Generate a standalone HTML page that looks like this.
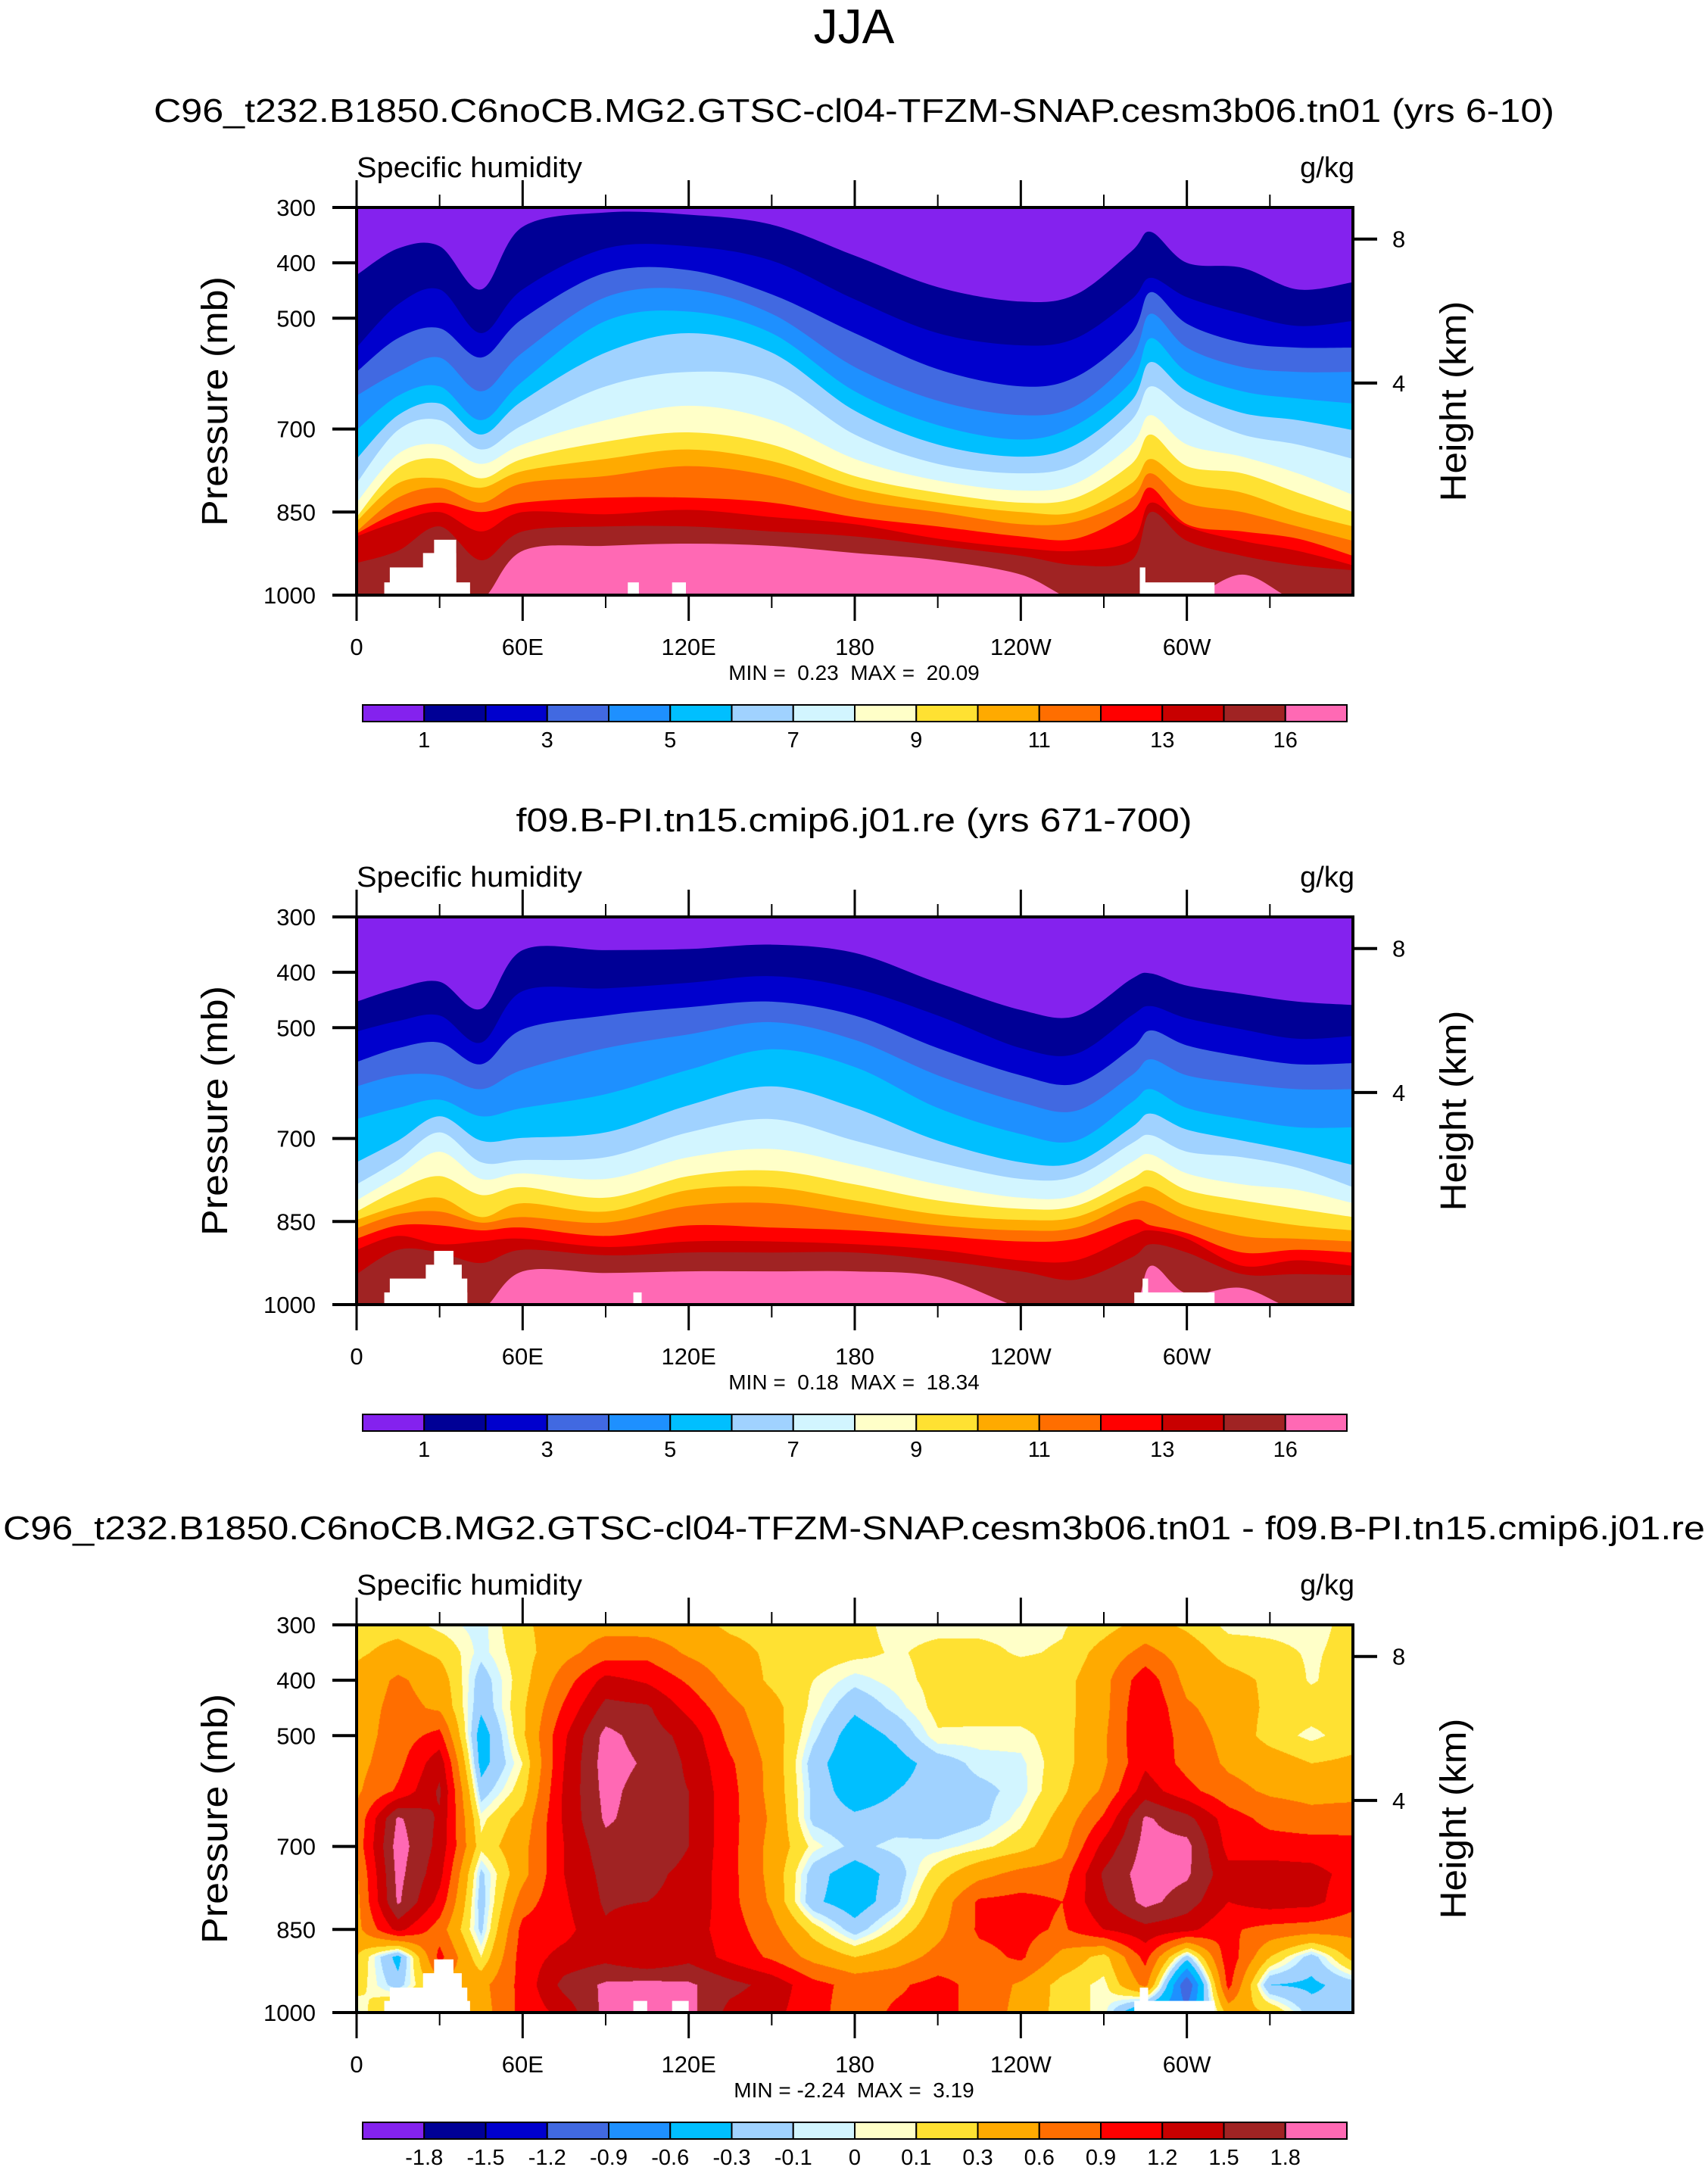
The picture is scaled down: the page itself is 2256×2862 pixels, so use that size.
<!DOCTYPE html>
<html><head><meta charset="utf-8"><style>
html,body{margin:0;padding:0;background:#fff;}
#wrap{position:relative;width:2256px;height:2862px;overflow:hidden;background:#fff;}
#diffcanvas{position:absolute;left:471px;top:2146px;width:1316px;height:512px;}
#main{position:absolute;left:0;top:0;}
text{font-family:"Liberation Sans",Arial,sans-serif;fill:#000;}
.pre{white-space:pre;}
</style></head><body>
<div id="wrap">
<canvas id="diffcanvas" width="1316" height="512"></canvas>
<svg id="main" width="2256" height="2862" xmlns="http://www.w3.org/2000/svg">
<text x="1128" y="57" font-size="64" text-anchor="middle">JJA</text>
</svg>
</div>
<script>
// ---- data ----
const lons = [0,15,30,45,60,90,120,150,180,210,240,260,280,287,300,320,340,360];
const p1b1=[422,374,370,448,335,309,313,331,387,444,470,457,379,344,400,409,448,435];
const p1b2=[553,475,448,527,448,374,370,396,466,527,549,536,466,427,462,492,514,505];
const p1b3=[597,536,518,571,501,418,413,457,527,592,623,606,527,453,510,544,553,553];
const p1b4=[640,597,571,632,562,462,448,492,588,649,675,658,571,492,553,588,597,597];
const p1b5=[702,640,623,684,614,505,488,527,632,693,719,693,614,536,597,632,645,654];
const p1b6=[754,675,654,710,649,562,527,562,667,728,750,728,649,579,632,671,684,702];
const p1b7=[798,702,684,737,693,623,597,614,710,763,780,763,684,623,667,710,728,754];
const p1b8=[833,745,728,763,728,684,658,684,754,793,811,798,728,675,728,750,780,819];
const p1b9=[859,771,754,789,754,723,706,728,785,815,833,824,763,710,767,780,815,850];
const p1b10=[867,798,789,806,776,754,737,758,806,833,850,850,798,754,798,815,850,876];
const p1b11=[885,824,806,833,798,785,767,785,828,850,872,867,824,780,833,850,876,902];
const p1b12=[889,850,833,850,833,824,824,833,859,876,894,898,850,806,872,885,898,929];
const p1b13=[894,867,850,885,850,854,846,859,872,898,915,920,902,833,876,902,920,946];
const p1b14=[942,920,876,937,885,876,876,885,894,911,929,946,937,850,902,929,946,955];
const p1b15=[1010,1010,1010,1010,920,911,907,911,924,937,963,1010,1010,1010,1010,963,1010,1010];

const p2b1=[453,429,417,466,360,360,358,350,365,419,468,479,412,402,424,439,453,459];
const p2b2=[507,488,478,527,434,429,419,407,429,478,537,547,478,461,483,503,520,515];
const p2b3=[562,537,527,566,503,478,463,453,478,537,586,601,537,505,532,552,566,564];
const p2b4=[606,586,586,611,576,537,512,490,522,586,635,650,586,557,586,601,611,611];
const p2b5=[665,645,630,660,645,620,576,539,571,645,692,704,635,611,645,665,680,680];
const p2b6=[743,704,660,704,699,689,640,606,645,704,743,743,680,655,684,704,724,748];
const p2b7=[783,739,689,743,739,734,689,665,704,743,773,768,709,694,724,734,753,788];
const p2b8=[812,768,724,773,763,773,734,719,748,783,807,802,743,729,763,783,793,817];
const p2b9=[832,793,768,802,788,807,768,758,783,812,827,822,773,758,793,812,827,842];
const p2b10=[847,822,807,842,817,832,793,788,812,837,847,842,798,788,822,842,857,866];
const p2b11=[862,837,832,852,842,852,822,817,837,857,866,861,817,817,847,876,881,886];
const p2b12=[881,857,857,866,861,876,857,861,866,876,886,881,847,857,871,906,901,906];
const p2b13=[901,876,891,886,881,896,886,886,891,901,920,920,876,866,881,930,920,930];
const p2b14=[945,901,906,925,901,911,906,906,906,920,940,955,915,891,906,945,945,947];
const p2b15=[1010,1010,1010,1010,940,943,940,940,940,950,1005,1010,1010,930,980,970,1010,1010];

// missing-data (white) boxes: [lon1, lon2, pressureTop]
const miss1=[[10,41,977],[12,36,950],[24,36,924],[28,36,900],[98,102,977],[114,119,977],[283,310,977],[283,285,950]];
const miss2=[[10,40,978],[12,40,953],[25,38,928],[28,35,903],[100,103,978],[281,310,978],[284,286,953]];
const miss3=[[10,41,979],[12,40,955],[24,38,929],[28,35,904],[100,105,979],[114,120,979],[281,310,979],[283,286,955]];

// difference field grid: lon 0..360 step 15, pressure 300..1000 step 50
const diffLons=[0,15,30,45,60,75,90,105,120,135,150,165,180,195,210,225,240,255,270,285,300,315,330,345,360];
const diffPres=[300,350,400,450,500,550,600,650,700,750,800,850,900,950,1000];
const r300=[0.2,0.2,0.05,-0.05,0.25,0.45,0.5,0.45,0.4,0.25,0.2,0.2,0.15,0.05,0.05,0.05,0.05,0.08,0.2,0.4,0.25,0.05,0.05,0.05,0.15];
const r350=[0.25,0.4,0.25,-0.05,0.2,0.5,0.75,0.8,0.55,0.4,0.25,0.2,0.15,0.08,0.15,0.15,0.08,0.12,0.4,0.7,0.45,0.2,0.15,0.08,0.15];
const r400=[0.4,0.65,0.45,-0.2,0.2,0.75,1.3,1.15,0.85,0.5,0.25,0.1,-0.05,0.05,0.15,0.2,0.2,0.2,0.5,1.1,0.5,0.4,0.25,0.08,0.2];
const r450=[0.45,0.7,0.55,-0.25,0.25,0.95,1.6,1.55,1.1,0.7,0.4,0.05,-0.25,-0.05,0.15,0.2,0.2,0.2,0.5,1.2,0.65,0.45,0.25,0.2,0.2];
const r500=[0.45,0.75,1.0,-0.45,0.25,1.15,1.9,1.65,1.4,0.8,0.45,-0.05,-0.45,-0.25,0.08,0.05,0.05,0.2,0.55,1.2,0.75,0.5,0.2,0.05,0.2];
const r550=[0.5,0.8,1.4,-0.4,0.1,1.2,1.95,1.75,1.45,0.95,0.5,-0.2,-0.5,-0.4,-0.2,-0.05,-0.03,0.2,0.55,1.15,0.8,0.55,0.45,0.3,0.35];
const r600=[0.55,0.95,1.55,-0.2,0.2,1.25,1.9,1.65,1.5,1.0,0.5,-0.15,-0.45,-0.3,-0.2,-0.15,-0.05,0.25,0.65,1.35,1.0,0.7,0.55,0.5,0.5];
const r650=[0.65,1.85,1.45,0.05,0.4,1.25,1.85,1.65,1.5,1.0,0.55,-0.15,-0.25,-0.2,-0.25,-0.15,0.05,0.4,0.95,1.85,1.6,1.05,0.8,0.7,0.75];
const r700=[0.7,1.95,1.4,0.15,0.5,1.2,1.7,1.65,1.5,1.0,0.5,0.05,-0.15,-0.05,-0.05,0.05,0.2,0.5,1.3,1.9,1.9,1.1,1.05,1.05,1.0];
const r750=[0.55,1.9,1.3,-0.15,0.5,1.2,1.6,1.55,1.45,1.0,0.5,-0.2,-0.45,-0.2,0.2,0.5,0.7,0.75,1.55,1.95,1.85,1.3,1.35,1.3,1.1];
const r800=[0.5,1.85,1.1,-0.2,0.75,1.15,1.55,1.5,1.45,1.0,0.55,-0.25,-0.45,-0.15,0.4,0.95,1.0,0.9,1.45,1.9,1.65,1.2,1.35,1.3,1.0];
const r850=[0.5,1.3,0.75,-0.15,1.0,1.1,1.45,1.2,1.35,1.05,0.7,0.2,-0.2,0.15,0.5,0.95,1.0,0.85,1.2,1.4,1.3,0.95,0.8,0.75,0.7];
const r900=[0.3,-0.4,1.0,0.1,1.05,1.3,1.4,1.2,1.4,1.1,0.85,0.5,0.3,0.45,0.7,0.8,0.95,0.5,0.2,1.0,-0.2,1.1,0.3,-0.2,0.4];
const r950=[0.2,-0.2,0.5,0.5,1.0,1.6,1.85,1.9,1.85,1.6,1.4,1.0,0.8,0.85,1.0,0.8,0.55,0.2,0.05,0.7,-1.2,1.0,-0.3,-0.35,-0.2];
const r1000=[-0.05,0.5,0.5,0.45,1.0,1.3,1.9,2.0,1.9,1.4,1.3,1.0,0.75,0.95,1.0,0.8,0.5,0.2,0.05,-0.7,-0.8,0.4,0.3,-0.2,-0.3];

const diffLevels=[-1.8,-1.5,-1.2,-0.9,-0.6,-0.3,-0.1,0,0.1,0.3,0.6,0.9,1.2,1.5,1.8];
const cbLabels1=['1','3','5','7','9','11','13','16'];
const cbLabels3=['-1.8','-1.5','-1.2','-0.9','-0.6','-0.3','-0.1','0','0.1','0.3','0.6','0.9','1.2','1.5','1.8'];
const presTicks=[300,400,500,700,850,1000];
const heightTicks=['8','4'];
const heightTickPres=[357,617];
const xMajor=[0,60,120,180,240,300];
const xMajorLabels=['0','60E','120E','180','120W','60W'];
const xMinor=[30,90,150,210,270,330];
const titles=['C96_t232.B1850.C6noCB.MG2.GTSC-cl04-TFZM-SNAP.cesm3b06.tn01 (yrs 6-10)','f09.B-PI.tn15.cmip6.j01.re (yrs 671-700)','C96_t232.B1850.C6noCB.MG2.GTSC-cl04-TFZM-SNAP.cesm3b06.tn01 - f09.B-PI.tn15.cmip6.j01.re'];
const minmax=['MIN =  0.23  MAX =  20.09','MIN =  0.18  MAX =  18.34','MIN = -2.24  MAX =  3.19'];

const colors=['#8422EE','#000096','#0000CD','#4169E1','#1E90FF','#00BFFF','#A0D2FF','#D2F5FF','#FFFFC8','#FFE132','#FFAA00','#FF6E00','#FF0000','#C80000','#A02323','#FF69B4'];

// ---- layout ----
const L=471,R=1787,W=R-L,H=512;
const tops=[274,1211,2146];
const titleY=[161,1098,2033];
const titleLen=[1850,893,2248];
function xS(lon){return L+lon/360*W;}
function yS(p,top){return top+(p-300)/700*H;}

const svg=document.getElementById('main');
const NS='http://www.w3.org/2000/svg';
function mk(tag,attrs,parent){const e=document.createElementNS(NS,tag);for(const k in attrs)e.setAttribute(k,attrs[k]);(parent||svg).appendChild(e);return e;}

function smoothPath(pts){
  let d='M'+pts[0][0].toFixed(1)+','+pts[0][1].toFixed(1);
  for(let i=0;i<pts.length-1;i++){
    const p0=pts[Math.max(0,i-1)],p1=pts[i],p2=pts[i+1],p3=pts[Math.min(pts.length-1,i+2)];
    const c1x=p1[0]+(p2[0]-p0[0])/6,c1y=p1[1]+(p2[1]-p0[1])/6;
    const c2x=p2[0]-(p3[0]-p1[0])/6,c2y=p2[1]-(p3[1]-p1[1])/6;
    d+=' C'+c1x.toFixed(1)+','+c1y.toFixed(1)+' '+c2x.toFixed(1)+','+c2y.toFixed(1)+' '+p2[0].toFixed(1)+','+p2[1].toFixed(1);
  }
  return d;
}

const defs=mk('defs',{});
tops.forEach((t,i)=>{
  const cp=mk('clipPath',{id:'clip'+i},defs);
  mk('rect',{x:L,y:t,width:W,height:H},cp);
});

const panelBounds=[
  [p1b1,p1b2,p1b3,p1b4,p1b5,p1b6,p1b7,p1b8,p1b9,p1b10,p1b11,p1b12,p1b13,p1b14,p1b15],
  [p2b1,p2b2,p2b3,p2b4,p2b5,p2b6,p2b7,p2b8,p2b9,p2b10,p2b11,p2b12,p2b13,p2b14,p2b15]
];
const missing=[miss1,miss2,miss3];

// panels 1-2 filled contours
for(let pi=0;pi<2;pi++){
  const top=tops[pi];
  const g=mk('g',{'clip-path':'url(#clip'+pi+')'});
  
  
  const bg=mk('rect',{x:L,y:top,width:W,height:H,fill:colors[0]},g);
  
  
  panelBounds[pi].forEach((b,k)=>{
    const pts=lons.map((lo,j)=>[xS(lo),yS(b[j],top)]);
    const d=smoothPath(pts)+' L'+(R+5)+','+(top+H+20)+' L'+(L-5)+','+(top+H+20)+' Z';
    const path=mk('path',{d:d,fill:colors[k+1]},g);
    
    
  });
}

// panel 3 field on canvas
(function(){
  const rows=[r300,r350,r400,r450,r500,r550,r600,r650,r700,r750,r800,r850,r900,r950,r1000];
  const cv=document.getElementById('diffcanvas');
  const ctx=cv.getContext('2d');
  const img=ctx.createImageData(W,H);
  const rgb=colors.map(c=>[parseInt(c.slice(1,3),16),parseInt(c.slice(3,5),16),parseInt(c.slice(5,7),16)]);
  const dl=diffLons[1]-diffLons[0], dp=diffPres[1]-diffPres[0];
  for(let py=0;py<H;py++){
    const p=300+(py+0.5)/H*700;
    let fy=(p-diffPres[0])/dp; let iy=Math.min(Math.floor(fy),diffPres.length-2); let ty=fy-iy;
    for(let px=0;px<W;px++){
      const lo=(px+0.5)/W*360;
      let fx=(lo-diffLons[0])/dl; let ix=Math.min(Math.floor(fx),diffLons.length-2); let tx=fx-ix;
      const v=(rows[iy][ix]*(1-tx)+rows[iy][ix+1]*tx)*(1-ty)+(rows[iy+1][ix]*(1-tx)+rows[iy+1][ix+1]*tx)*ty;
      let ci=0; for(const lv of diffLevels){ if(v>=lv) ci++; }
      const o=(py*W+px)*4, c=rgb[ci];
      img.data[o]=c[0];img.data[o+1]=c[1];img.data[o+2]=c[2];img.data[o+3]=255;
    }
  }
  ctx.putImageData(img,0,0);
})();

// per-panel decorations
tops.forEach((top,pi)=>{
  const bottom=top+H;
  missing[pi].forEach((m,k)=>{
    const r=mk('rect',{x:xS(m[0]),y:yS(m[2],top),width:xS(m[1])-xS(m[0]),height:bottom-yS(m[2],top),fill:'#fff'});
    
    
  });
  const tt=mk('text',{x:1128,y:titleY[pi],'font-size':44,'text-anchor':'middle',textLength:titleLen[pi],lengthAdjust:'spacingAndGlyphs'});
  tt.textContent=titles[pi];
  
  
  const sh=mk('text',{x:L,y:top-40,'font-size':38,textLength:298,lengthAdjust:'spacingAndGlyphs'});
  sh.textContent='Specific humidity';
  
  
  const un=mk('text',{x:R+2,y:top-40,'font-size':38,'text-anchor':'end'});
  un.textContent='g/kg';
  
  
  const fr=mk('rect',{x:L,y:top,width:W,height:H,fill:'none',stroke:'#000','stroke-width':4});
  
  
  presTicks.forEach(p=>{
    const y=yS(p,top);
    const tk=mk('line',{x1:L-32,x2:L,y1:y,y2:y,stroke:'#000','stroke-width':4});
    
    
    const lb=mk('text',{x:L-54,y:y+11,'font-size':31,'text-anchor':'end'});
    lb.textContent=String(p);
    
    
  });
  heightTicks.forEach((h,k)=>{
    const y=yS(heightTickPres[k],top);
    const tk=mk('line',{x1:R,x2:R+32,y1:y,y2:y,stroke:'#000','stroke-width':4});
    
    
    const lb=mk('text',{x:R+52,y:y+11,'font-size':31});
    lb.textContent=h;
    
    
  });
  xMajor.forEach((lo,k)=>{
    const x=xS(lo);
    const t1=mk('line',{x1:x,x2:x,y1:top-36,y2:top,stroke:'#000','stroke-width':3});
    
    
    const t2=mk('line',{x1:x,x2:x,y1:bottom,y2:bottom+34,stroke:'#000','stroke-width':3});
    
    
    const lb=mk('text',{x:x,y:bottom+79,'font-size':31,'text-anchor':'middle'});
    lb.textContent=xMajorLabels[k];
    
    
  });
  xMinor.forEach(lo=>{
    const x=xS(lo);
    const t1=mk('line',{x1:x,x2:x,y1:top-17,y2:top,stroke:'#000','stroke-width':2});
    
    
    const t2=mk('line',{x1:x,x2:x,y1:bottom,y2:bottom+17,stroke:'#000','stroke-width':2});
    
    
  });
  const mm=mk('text',{x:1128,y:bottom+112,'font-size':28,'text-anchor':'middle','class':'pre'});
  mm.textContent=minmax[pi];
  
  
  const ya=mk('text',{x:0,y:0,'font-size':48,'text-anchor':'middle',textLength:330,lengthAdjust:'spacingAndGlyphs',transform:'translate(300,'+(top+H/2)+') rotate(-90)'});
  ya.textContent='Pressure (mb)';
  
  
  const ha=mk('text',{x:0,y:0,'font-size':48,'text-anchor':'middle',textLength:265,lengthAdjust:'spacingAndGlyphs',transform:'translate(1936,'+(top+H/2)+') rotate(-90)'});
  ha.textContent='Height (km)';
  
  
  const cbL=479,cbR=1779,cbW=(cbR-cbL)/16,cbY=bottom+145;
  colors.forEach((c,k)=>{
    const b=mk('rect',{x:cbL+k*cbW,y:cbY,width:cbW,height:22,fill:c,stroke:'#000','stroke-width':2});
    
    
  });
  const labs=pi<2?cbLabels1:cbLabels3;
  labs.forEach((s,k)=>{
    const bi=pi<2?(2*k+1):(k+1);
    const lb=mk('text',{x:cbL+bi*cbW,y:bottom+201,'font-size':29,'text-anchor':'middle'});
    lb.textContent=s;
    
    
  });
});
</script>
</body></html>
